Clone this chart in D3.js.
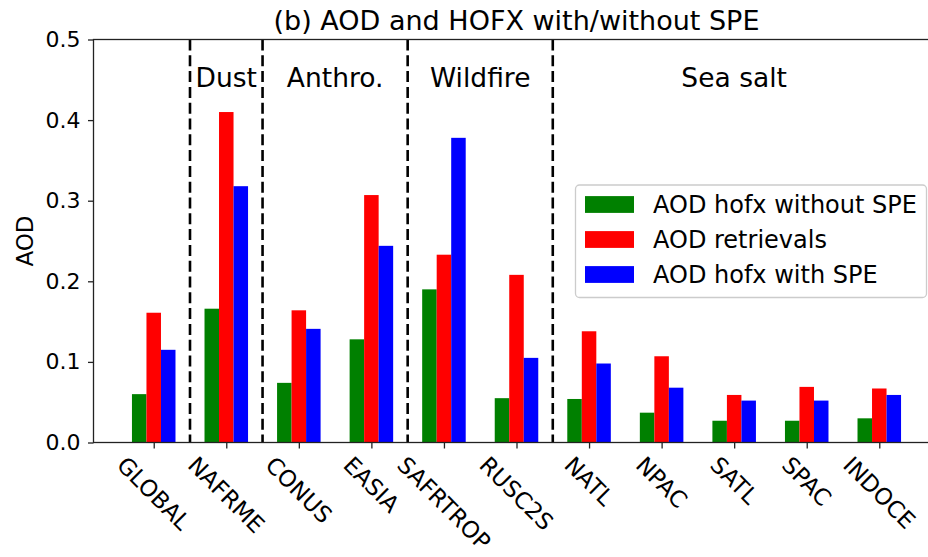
<!DOCTYPE html>
<html>
<head>
<meta charset="utf-8">
<script src="https://cdn.jsdelivr.net/npm/d3@7"></script>
<style>
  html, body { margin: 0; padding: 0; background: #fff; }
  svg { display: block; font-family: "DejaVu Sans", sans-serif; }
</style>
</head>
<body>
<svg id="chart" width="928" height="557"></svg>
<script>
// Regions along the x axis
const regions = ["GLOBAL", "NAFRME", "CONUS", "EASIA", "SAFRTROP", "RUSC2S",
                 "NATL", "NPAC", "SATL", "SPAC", "INDOCE"];

// Mean AOD per region
const hofxWithoutSPE = [0.060, 0.166, 0.074, 0.128, 0.190, 0.055, 0.054, 0.037, 0.027, 0.027, 0.030];
const retrievals     = [0.161, 0.410, 0.164, 0.307, 0.233, 0.208, 0.138, 0.107, 0.059, 0.069, 0.067];
const hofxWithSPE    = [0.115, 0.318, 0.141, 0.244, 0.378, 0.105, 0.098, 0.068, 0.052, 0.052, 0.059];

const seriesNames = ["AOD hofx without SPE", "AOD retrievals", "AOD hofx with SPE"];
const seriesColors = ["#008000", "#ff0000", "#0000ff"];
const seriesValues = [hofxWithoutSPE, retrievals, hofxWithSPE];

// Aerosol-type groups: label and centre position (in category index units)
const groupLabels = ["Dust", "Anthro.", "Wildfire", "Sea salt"];
const groupCenters = [1, 2.5, 4.5, 8];
// Separators between groups
const separators = [0.5, 1.5, 3.5, 5.5];

const yTicks = [0.0, 0.1, 0.2, 0.3, 0.4, 0.5];
const title = "(b) AOD and HOFX with/without SPE";
const yLabel = "AOD";

const svg = d3.select("#chart");
const plotLeft = 93.5, plotRight = 939.5, plotTop = 39.5, plotBottom = 442.5;
const barW = 0.2;

const x = d3.scaleLinear().domain([-0.83, 10.83]).range([plotLeft, plotRight]);
const y = d3.scaleLinear().domain([0, 0.5]).range([plotBottom, plotTop]);

// Bars
seriesValues.forEach((vals, s) => {
  const off = (s - 1) * barW;
  svg.append("g").selectAll("rect")
    .data(vals)
    .join("rect")
    .attr("x", (d, i) => x(i + off - barW / 2))
    .attr("width", (d, i) => x(i + off + barW / 2) - x(i + off - barW / 2))
    .attr("y", d => y(d))
    .attr("height", d => y(0) - y(d))
    .attr("fill", seriesColors[s]);
});

// Dashed group separators
svg.append("g").selectAll("line")
  .data(separators)
  .join("line")
  .attr("x1", d => x(d)).attr("x2", d => x(d))
  .attr("y1", plotTop).attr("y2", plotBottom)
  .attr("stroke", "#000")
  .attr("stroke-width", 2.6)
  .attr("stroke-dasharray", "11,4.8");

// Group labels
svg.append("g").selectAll("text")
  .data(groupLabels)
  .join("text")
  .attr("x", (d, i) => x(groupCenters[i]))
  .attr("y", 87)
  .attr("text-anchor", "middle")
  .attr("font-size", 26.5)
  .attr("fill", "#000")
  .text(d => d);

// Y axis
const yAxis = d3.axisLeft(y).tickValues(yTicks).tickFormat(d3.format(".1f"))
  .tickSize(5.5).tickPadding(7.5);
const gy = svg.append("g").attr("transform", `translate(${plotLeft},0)`).call(yAxis);
gy.select(".domain").remove();
gy.selectAll(".tick line").attr("stroke", "#222").attr("stroke-width", 1.3);
gy.selectAll(".tick text").attr("font-size", 22).attr("fill", "#000")
  .attr("font-family", "DejaVu Sans");

// X axis
const xAxis = d3.axisBottom(x).tickValues(d3.range(regions.length))
  .tickFormat("").tickSize(6);
const gx = svg.append("g").attr("transform", `translate(0,${plotBottom})`).call(xAxis);
gx.select(".domain").remove();
gx.selectAll(".tick line").attr("stroke", "#222").attr("stroke-width", 1.3);

// Rotated category labels, bounding box centred under each tick
const fsX = 23;
const labelTop = 453;
const xl = svg.append("g");
regions.forEach((name, i) => {
  const t = xl.append("text")
    .attr("font-size", fsX)
    .attr("text-anchor", "middle")
    .attr("dominant-baseline", "central")
    .attr("fill", "#000")
    .text(name);
  const w = t.node().getComputedTextLength();
  const h = fsX * 0.95;
  const half = (w + h) * Math.SQRT1_2 / 2;
  t.attr("transform", `translate(${x(i)},${labelTop + half}) rotate(45)`);
});

// Frame
svg.append("rect")
  .attr("x", plotLeft).attr("y", plotTop)
  .attr("width", plotRight - plotLeft).attr("height", plotBottom - plotTop)
  .attr("fill", "none").attr("stroke", "#222").attr("stroke-width", 1.3);

// Title
svg.append("text")
  .attr("x", (plotLeft + plotRight) / 2).attr("y", 30)
  .attr("text-anchor", "middle")
  .attr("font-size", 27)
  .attr("fill", "#000")
  .text(title);

// Y label
svg.append("text")
  .attr("transform", `translate(32.5,${(plotTop + plotBottom) / 2}) rotate(-90)`)
  .attr("text-anchor", "middle")
  .attr("font-size", 23)
  .attr("fill", "#000")
  .text(yLabel);

// Legend
const lg = svg.append("g");
lg.append("rect")
  .attr("x", 575.5).attr("y", 185)
  .attr("width", 351).attr("height", 112.5)
  .attr("rx", 4).attr("ry", 4)
  .attr("fill", "rgba(255,255,255,0.8)")
  .attr("stroke", "#cccccc").attr("stroke-width", 1.3);
seriesNames.forEach((name, s) => {
  const cy = 204.5 + s * 35;
  lg.append("rect")
    .attr("x", 585).attr("y", cy - 8.4)
    .attr("width", 49).attr("height", 16.8)
    .attr("fill", seriesColors[s]);
  lg.append("text")
    .attr("x", 653).attr("y", cy + 8.5)
    .attr("font-size", 24)
    .attr("fill", "#000")
    .text(name);
});
</script>
</body>
</html>
